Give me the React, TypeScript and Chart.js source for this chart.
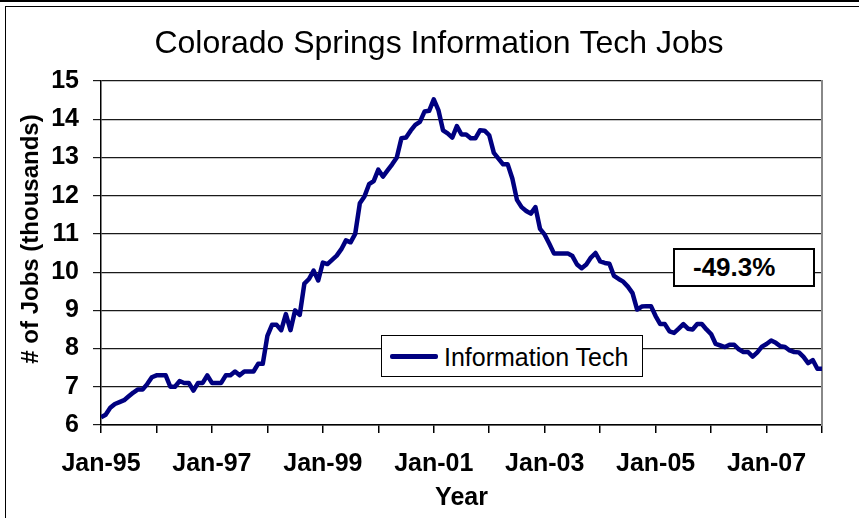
import React, { useEffect, useRef } from "react";
import { Chart, registerables } from "chart.js";

Chart.register(...registerables);

// Monthly observations, Jan-95 .. Jan-08 (index = months since Jan-95)
const startYear = 1995;
const jobsThousands: number[] = [
  6.2, 6.27, 6.45, 6.55, 6.6, 6.65, 6.75, 6.85, 6.93, 6.93, 7.07, 7.25,
  7.3, 7.3, 7.3, 7.0, 7.0, 7.15, 7.1, 7.1, 6.9, 7.1, 7.1, 7.3,
  7.1, 7.1, 7.1, 7.3, 7.3, 7.4, 7.3, 7.4, 7.4, 7.4, 7.6, 7.6,
  8.33, 8.62, 8.62, 8.48, 8.9, 8.48, 9.0, 8.88, 9.7, 9.82, 10.04, 9.78,
  10.25, 10.21, 10.32, 10.43, 10.6, 10.83, 10.78, 11.0, 11.8, 11.98, 12.3, 12.38,
  12.68, 12.5, 12.66, 12.82, 13.0, 13.5, 13.52, 13.7, 13.85, 13.93, 14.2, 14.22,
  14.52, 14.24, 13.71, 13.63, 13.52, 13.82, 13.6, 13.6, 13.5, 13.5, 13.71, 13.7,
  13.58, 13.12, 12.97, 12.82, 12.82, 12.45, 11.89, 11.7, 11.6, 11.53, 11.7, 11.13,
  10.98, 10.74, 10.49, 10.49, 10.49, 10.49, 10.42, 10.2, 10.1, 10.2, 10.38, 10.5,
  10.28, 10.24, 10.22, 9.9, 9.82, 9.75, 9.62, 9.45, 9.02, 9.1, 9.11, 9.11,
  8.85, 8.64, 8.64, 8.45, 8.41, 8.52, 8.64, 8.52, 8.5, 8.64, 8.64, 8.5,
  8.38, 8.12, 8.08, 8.04, 8.1, 8.1, 7.98, 7.91, 7.91, 7.79, 7.9, 8.05,
  8.12, 8.21, 8.15, 8.06, 8.04, 7.95, 7.91, 7.9, 7.78, 7.62, 7.7, 7.47,
  7.47,
];
const monthNames = ["Jan", "Feb", "Mar", "Apr", "May", "Jun", "Jul", "Aug", "Sep", "Oct", "Nov", "Dec"];
const categories: string[] = jobsThousands.map((_, i) => {
  const y = startYear + Math.floor(i / 12);
  return `${monthNames[i % 12]}-${String(y % 100).padStart(2, "0")}`;
});
const xTickLabels: string[] = ["Jan-95", "Jan-97", "Jan-99", "Jan-01", "Jan-03", "Jan-05", "Jan-07"];
const yTicks: number[] = [6, 7, 8, 9, 10, 11, 12, 13, 14, 15];
const seriesName = "Information Tech";
const changeLabel = "-49.3%";
const yAxisTitle = "# of Jobs (thousands)";

const FONT = "'Liberation Sans', Arial, Helvetica, sans-serif";

export default function App() {
  const ref = useRef<HTMLCanvasElement | null>(null);

  useEffect(() => {
    if (!ref.current) return;
    const points = jobsThousands.map((v, i) => ({ x: i, y: v }));
    const chart = new Chart(ref.current, {
      type: "line",
      data: {
        labels: categories,
        datasets: [
          {
            label: seriesName,
            data: points,
            borderColor: "#000080",
            backgroundColor: "#000080",
            borderWidth: 4.5,
            pointRadius: 0,
            tension: 0,
            borderJoinStyle: "round",
          },
        ],
      },
      options: {
        animation: false,
        responsive: false,
        maintainAspectRatio: false,
        layout: { padding: { left: 19, right: 0, top: 0, bottom: 0 } },
        plugins: {
          legend: { display: false },
          tooltip: { enabled: false },
          title: {
            display: true,
            text: "Colorado Springs Information Tech Jobs",
            color: "#000",
            font: { family: FONT, size: 32, weight: "normal" },
            padding: { top: 25, bottom: 17.6 },
          },
        },
        scales: {
          x: {
            type: "linear",
            min: 0,
            max: jobsThousands.length - 1,
            afterFit: (s: any) => {
              s.height = 93;
            },
            afterBuildTicks: (s: any) => {
              const t = [];
              for (let v = 0; v <= jobsThousands.length - 1; v += 12) t.push({ value: v });
              s.ticks = t;
            },
            ticks: {
              autoSkip: false,
              maxRotation: 0,
              minRotation: 0,
              padding: 16,
              color: "#000",
              font: { family: FONT, size: 25, weight: "bold" },
              callback: (v: any) => {
                const idx = Math.round(Number(v) / 24);
                return Number(v) % 24 === 0 && idx < xTickLabels.length ? xTickLabels[idx] : "";
              },
            },
            grid: {
              display: true,
              drawOnChartArea: false,
              drawTicks: true,
              tickLength: 8,
              color: "#000",
              lineWidth: 1.5,
            },
            border: { display: true, color: "#000", width: 1.5 },
            title: {
              display: true,
              text: "Year",
              color: "#000",
              font: { family: FONT, size: 25, weight: "bold" },
              padding: { top: 0, bottom: 5 },
            },
          },
          y: {
            type: "linear",
            min: yTicks[0],
            max: yTicks[yTicks.length - 1],
            afterFit: (s: any) => {
              s.width = 82;
            },
            afterBuildTicks: (s: any) => {
              s.ticks = yTicks.map((v) => ({ value: v }));
            },
            ticks: {
              padding: 14,
              color: "#000",
              font: { family: FONT, size: 25, weight: "bold" },
            },
            grid: {
              color: "#1a1a1a",
              lineWidth: 1.2,
              drawTicks: true,
              tickLength: 8,
            },
            border: { display: true, color: "#000", width: 1.5 },
          },
          y2: {
            type: "linear",
            position: "right",
            min: 0,
            max: 1,
            afterFit: (s: any) => {
              s.width = 37;
            },
            ticks: { display: false },
            grid: { display: false, drawTicks: false },
            border: { display: true, color: "#888", width: 2 },
          },
        },
      },
    });
    return () => chart.destroy();
  }, []);

  return (
    <div
      style={{
        position: "fixed",
        left: 0,
        top: 0,
        width: 859,
        height: 518,
        overflow: "hidden",
        background: "#fff",
        fontFamily: FONT,
      }}
    >
      <div style={{ position: "absolute", left: 0, top: 0, width: 859, height: 2, background: "#000" }} />
      <div
        style={{
          position: "absolute",
          left: 5,
          top: 6,
          width: 900,
          height: 600,
          border: "1px solid #000",
          boxSizing: "border-box",
        }}
      />
      <canvas ref={ref} width={859} height={518} style={{ position: "absolute", left: 0, top: 0, width: 859, height: 518 }} />
      <div
        style={{
          position: "absolute",
          left: 30 - 150,
          top: 239 - 15,
          width: 300,
          height: 30,
          lineHeight: "30px",
          textAlign: "center",
          fontSize: 24,
          fontWeight: "bold",
          color: "#000",
          whiteSpace: "nowrap",
          transform: "rotate(-90deg)",
          transformOrigin: "50% 50%",
        }}
      >
        {yAxisTitle}
      </div>
      <div
        style={{
          position: "absolute",
          left: 381,
          top: 335,
          width: 262,
          height: 42,
          border: "1px solid #000",
          background: "#fff",
          boxSizing: "border-box",
        }}
      >
        <div style={{ position: "absolute", left: 8, top: 18, width: 48, height: 4.5, background: "#000080", borderRadius: 2 }} />
        <div
          style={{
            position: "absolute",
            left: 62,
            top: 1,
            height: 40,
            lineHeight: "40px",
            fontSize: 25,
            color: "#000",
            whiteSpace: "nowrap",
          }}
        >
          {seriesName}
        </div>
      </div>
      <div
        style={{
          position: "absolute",
          left: 673,
          top: 248,
          width: 142,
          height: 39,
          border: "2px solid #000",
          background: "#fff",
          boxSizing: "border-box",
        }}
      >
        <div
          style={{
            position: "absolute",
            left: 18,
            top: 0,
            height: 35,
            lineHeight: "35px",
            fontSize: 26,
            fontWeight: "bold",
            color: "#000",
            whiteSpace: "nowrap",
          }}
        >
          {changeLabel}
        </div>
      </div>
    </div>
  );
}
